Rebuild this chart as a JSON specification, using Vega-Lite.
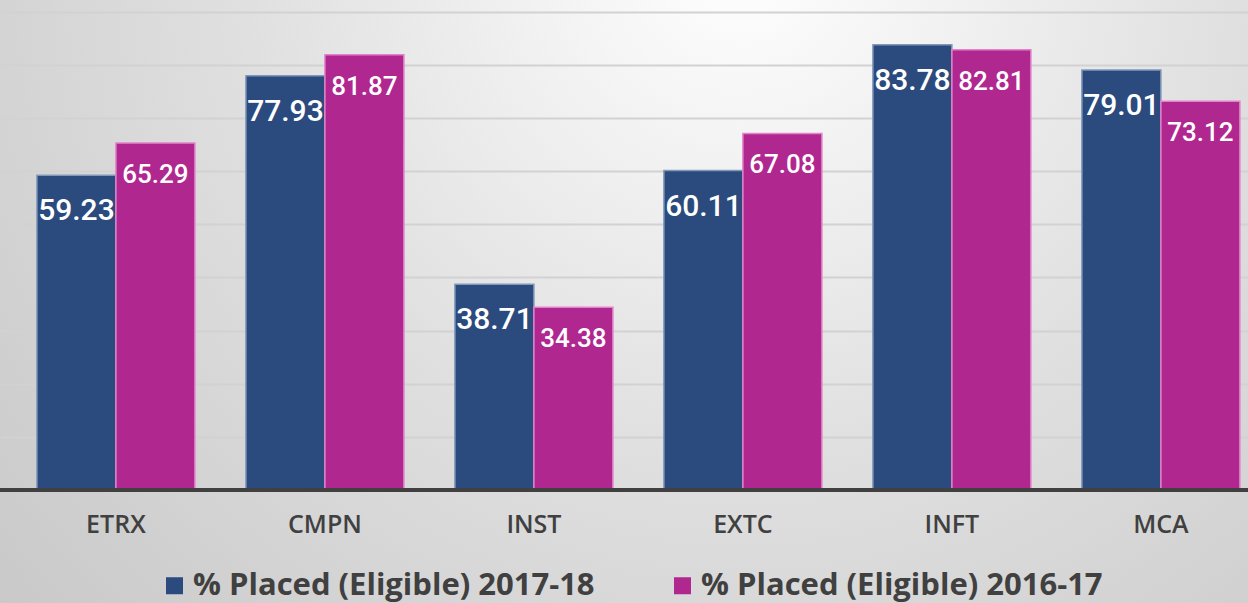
{
  "$schema": "https://vega.github.io/schema/vega-lite/v6.json",
  "width": 1248,
  "height": 603,
  "padding": 0,
  "autosize": {"type": "none"},
  "background": "#d3d3d3",
  "config": {
    "view": {
      "stroke": null,
      "fill": {
        "gradient": "radial",
        "x1": 0.593, "y1": 0.226, "r1": 0,
        "x2": 0.593, "y2": 0.226, "r2": 0.88,
        "stops": [
          {"offset": 0, "color": "#ffffff"},
          {"offset": 0.1, "color": "#f8f8f8"},
          {"offset": 0.45, "color": "#e0e0e0"},
          {"offset": 0.75, "color": "#d0d0d0"},
          {"offset": 1, "color": "#c4c4c4"}
        ]
      }
    }
  },
  "data": {
    "values": [
      {"dept": "ETRX", "series": "% Placed (Eligible) 2017-18", "value": 59.23},
      {"dept": "ETRX", "series": "% Placed (Eligible) 2016-17", "value": 65.29},
      {"dept": "CMPN", "series": "% Placed (Eligible) 2017-18", "value": 77.93},
      {"dept": "CMPN", "series": "% Placed (Eligible) 2016-17", "value": 81.87},
      {"dept": "INST", "series": "% Placed (Eligible) 2017-18", "value": 38.71},
      {"dept": "INST", "series": "% Placed (Eligible) 2016-17", "value": 34.38},
      {"dept": "EXTC", "series": "% Placed (Eligible) 2017-18", "value": 60.11},
      {"dept": "EXTC", "series": "% Placed (Eligible) 2016-17", "value": 67.08},
      {"dept": "INFT", "series": "% Placed (Eligible) 2017-18", "value": 83.78},
      {"dept": "INFT", "series": "% Placed (Eligible) 2016-17", "value": 82.81},
      {"dept": "MCA", "series": "% Placed (Eligible) 2017-18", "value": 79.01},
      {"dept": "MCA", "series": "% Placed (Eligible) 2016-17", "value": 73.12}
    ]
  },
  "layer": [
    {
      "mark": {"type": "bar", "strokeWidth": 1.5},
      "encoding": {
        "x": {"field": "dept", "type": "nominal", "sort": null,
              "scale": {"paddingInner": 0.244, "paddingOuter": 0.1077, "align": 0.82}, "axis": null},
        "xOffset": {"field": "series", "type": "nominal",
                    "sort": ["% Placed (Eligible) 2017-18", "% Placed (Eligible) 2016-17"],
                    "scale": {"paddingInner": 0, "paddingOuter": 0}},
        "y": {"field": "value", "type": "quantitative",
              "scale": {"domain": [-21.26, 92.19], "nice": false, "zero": false},
              "axis": {"values": [10, 20, 30, 40, 50, 60, 70, 80, 90], "grid": true, "labels": false,
                       "ticks": false, "domain": false, "title": null, "gridColor": "#d2d2d2", "gridWidth": 2}},
        "y2": {"datum": 0},
        "color": {"field": "series", "type": "nominal",
                  "scale": {"domain": ["% Placed (Eligible) 2017-18", "% Placed (Eligible) 2016-17"],
                            "range": ["#2b4b7e", "#b0288f"]},
                  "legend": {"orient": "none", "legendX": 159, "legendY": 570, "direction": "horizontal",
                             "title": null, "labelFontSize": 31, "labelFont": "Open Sans", "labelFontWeight": 700,
                             "labelColor": "#404040", "symbolType": "square", "symbolSize": 289,
                             "symbolStrokeWidth": 0, "labelOffset": 3, "columnPadding": 72, "padding": 0,
                             "labelLimit": 0}},
        "stroke": {"field": "series", "type": "nominal",
                   "scale": {"domain": ["% Placed (Eligible) 2017-18", "% Placed (Eligible) 2016-17"],
                             "range": ["#8298bb", "#e283c9"]},
                   "legend": null}
      }
    },
    {
      "mark": {"type": "rule", "color": "#404040", "strokeWidth": 4},
      "encoding": {"y": {"datum": 0}}
    },
    {
      "transform": [{"filter": "datum.series == '% Placed (Eligible) 2017-18'"}],
      "mark": {"type": "text", "color": "white", "font": "Roboto", "fontSize": 30, "fontWeight": 500,
               "baseline": "alphabetic", "dy": 45},
      "encoding": {
        "x": {"field": "dept", "type": "nominal", "sort": null},
        "xOffset": {"field": "series", "type": "nominal",
                    "sort": ["% Placed (Eligible) 2017-18", "% Placed (Eligible) 2016-17"]},
        "y": {"field": "value", "type": "quantitative"},
        "text": {"field": "value", "type": "quantitative", "format": ".2f"}
      }
    },
    {
      "transform": [{"filter": "datum.series == '% Placed (Eligible) 2016-17'"}],
      "mark": {"type": "text", "color": "white", "font": "Roboto", "fontSize": 26, "fontWeight": 500,
               "baseline": "alphabetic", "dy": 40},
      "encoding": {
        "x": {"field": "dept", "type": "nominal", "sort": null},
        "xOffset": {"field": "series", "type": "nominal",
                    "sort": ["% Placed (Eligible) 2017-18", "% Placed (Eligible) 2016-17"]},
        "y": {"field": "value", "type": "quantitative"},
        "text": {"field": "value", "type": "quantitative", "format": ".2f"}
      }
    },
    {
      "transform": [{"filter": "datum.series == '% Placed (Eligible) 2017-18'"}],
      "mark": {"type": "text", "color": "#404040", "font": "Open Sans", "fontSize": 25, "fontWeight": 600,
               "baseline": "middle"},
      "encoding": {
        "x": {"field": "dept", "type": "nominal", "sort": null},
        "y": {"datum": -6.6},
        "text": {"field": "dept", "type": "nominal"}
      }
    }
  ]
}
